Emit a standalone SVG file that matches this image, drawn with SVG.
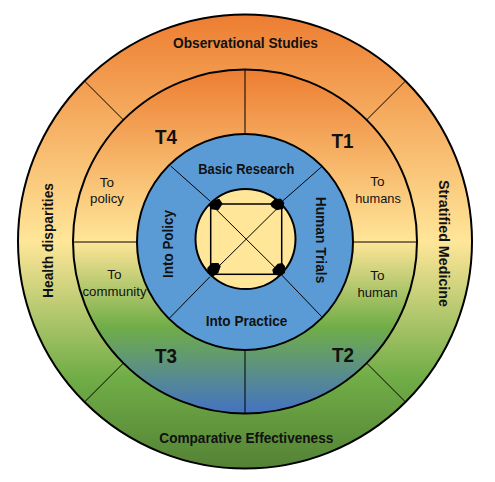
<svg xmlns="http://www.w3.org/2000/svg" width="495" height="482" viewBox="0 0 495 482">
<defs>
<linearGradient id="gOuter" x1="0" y1="0" x2="0" y2="1">
<stop offset="0" stop-color="#ED7D31"/>
<stop offset="0.5" stop-color="#FFE699"/>
<stop offset="0.8" stop-color="#70AD47"/>
<stop offset="1" stop-color="#548235"/>
</linearGradient>
<linearGradient id="gMid" x1="0" y1="0" x2="0" y2="1">
<stop offset="0" stop-color="#ED7D31"/>
<stop offset="0.5" stop-color="#FFE699"/>
<stop offset="0.75" stop-color="#70AD47"/>
<stop offset="1" stop-color="#4472C4"/>
</linearGradient>
</defs>
<style>
.ring{stroke:#000;stroke-width:2}
.div{stroke:#000;stroke-width:1;fill:none}
.bold{font-family:"Liberation Sans",Arial,sans-serif;font-weight:bold;font-size:14.5px;fill:#111;text-anchor:middle}
.reg{font-family:"Liberation Sans",Arial,sans-serif;font-size:13.5px;fill:#111;text-anchor:middle}
.tl{font-family:"Liberation Sans",Arial,sans-serif;font-weight:bold;font-size:21px;fill:#111;text-anchor:middle}
.blob{fill:#000}
</style>
<g id="outer-ring">
<circle class="ring" cx="245" cy="241.5" r="227" fill="url(#gOuter)"/>
<text class="bold" x="245.5" y="48" textLength="145" lengthAdjust="spacingAndGlyphs">Observational Studies</text>
<text class="bold" x="246.3" y="442.5" textLength="174" lengthAdjust="spacingAndGlyphs">Comparative Effectiveness</text>
<text class="bold" transform="translate(52.5,240.5) rotate(-90)" x="0" y="0" textLength="115" lengthAdjust="spacingAndGlyphs">Health disparities</text>
<text class="bold" transform="translate(438.5,243.5) rotate(90)" x="0" y="0" textLength="127" lengthAdjust="spacingAndGlyphs">Stratified Medicine</text>
</g>
<g id="middle-ring">
<circle class="ring" cx="245" cy="241.5" r="172" fill="url(#gMid)"/>
<text class="tl" x="166" y="143.5" textLength="22" lengthAdjust="spacingAndGlyphs">T4</text>
<text class="tl" x="342.5" y="147.5" textLength="22" lengthAdjust="spacingAndGlyphs">T1</text>
<text class="tl" x="166" y="362.5" textLength="22" lengthAdjust="spacingAndGlyphs">T3</text>
<text class="tl" x="343" y="361.5" textLength="22" lengthAdjust="spacingAndGlyphs">T2</text>
<text class="reg" x="107" y="186.5">To</text>
<text class="reg" x="107" y="203" textLength="34" lengthAdjust="spacingAndGlyphs">policy</text>
<text class="reg" x="114.5" y="279">To</text>
<text class="reg" x="114.5" y="295.5" textLength="64" lengthAdjust="spacingAndGlyphs">community</text>
<text class="reg" x="377.5" y="186">To</text>
<text class="reg" x="378" y="202.5" textLength="45.7" lengthAdjust="spacingAndGlyphs">humans</text>
<text class="reg" x="377.5" y="280">To</text>
<text class="reg" x="377.5" y="296.5" textLength="40" lengthAdjust="spacingAndGlyphs">human</text>
</g>
<g id="inner-ring">
<circle class="ring" cx="245" cy="242" r="108" fill="#5B9BD5"/>
<text class="bold" x="246.3" y="174.3" textLength="96" lengthAdjust="spacingAndGlyphs">Basic Research</text>
<text class="bold" x="246.5" y="325.5" textLength="81.6" lengthAdjust="spacingAndGlyphs">Into Practice</text>
<text class="bold" transform="translate(172.5,244) rotate(-90)" x="0" y="0" textLength="68" lengthAdjust="spacingAndGlyphs">Into Policy</text>
<text class="bold" transform="translate(315.5,240) rotate(90)" x="0" y="0" textLength="86.6" lengthAdjust="spacingAndGlyphs">Human Trials</text>
</g>
<g id="hub">
<circle class="ring" cx="245.5" cy="239" r="50" fill="#FFE699"/>
</g>
<g id="connectors">
<line class="div" x1="123.4" y1="119.9" x2="84.5" y2="81"/>
<line class="div" x1="366.6" y1="119.9" x2="405.5" y2="81"/>
<line class="div" x1="123.4" y1="363.1" x2="84.5" y2="402"/>
<line class="div" x1="366.6" y1="363.1" x2="405.5" y2="402"/>
<line class="div" x1="245" y1="70" x2="245" y2="134"/>
<line class="div" x1="245" y1="350" x2="245" y2="414"/>
<line class="div" x1="74" y1="242" x2="137" y2="242"/>
<line class="div" x1="353" y1="242" x2="416" y2="242"/>
<line class="div" x1="170.7" y1="166" x2="210" y2="201"/>
<line class="div" x1="321.7" y1="166.7" x2="280.7" y2="202.7"/>
<line class="div" x1="169.3" y1="318.3" x2="210" y2="276.7"/>
<line class="div" x1="321.7" y1="316.7" x2="281.7" y2="275"/>
<rect x="210.7" y="204" width="71" height="70.3" fill="none" stroke="#000" stroke-width="1.5"/>
<line class="div" x1="210.7" y1="204" x2="281.7" y2="274.3"/>
<line class="div" x1="281.7" y1="204" x2="210.7" y2="274.3"/>
<polygon class="blob" points="211,201 219.3,198.7 222.7,203.7 218.3,210.3 211,209.3 209,205.3"/>
<polygon class="blob" points="270,203.7 275,198.7 281,198.7 284.3,202.7 283.3,208.7 276.7,210.3 271.7,207"/>
<polygon class="blob" points="207.3,268 211.7,263 218.3,263 220.7,266.3 218.3,273 213.3,276.3 207.3,273"/>
<polygon class="blob" points="272.3,269.7 277.7,263.7 282.3,263 285,266.3 285,273 280,276.3 273.3,274"/>
</g>
</svg>
